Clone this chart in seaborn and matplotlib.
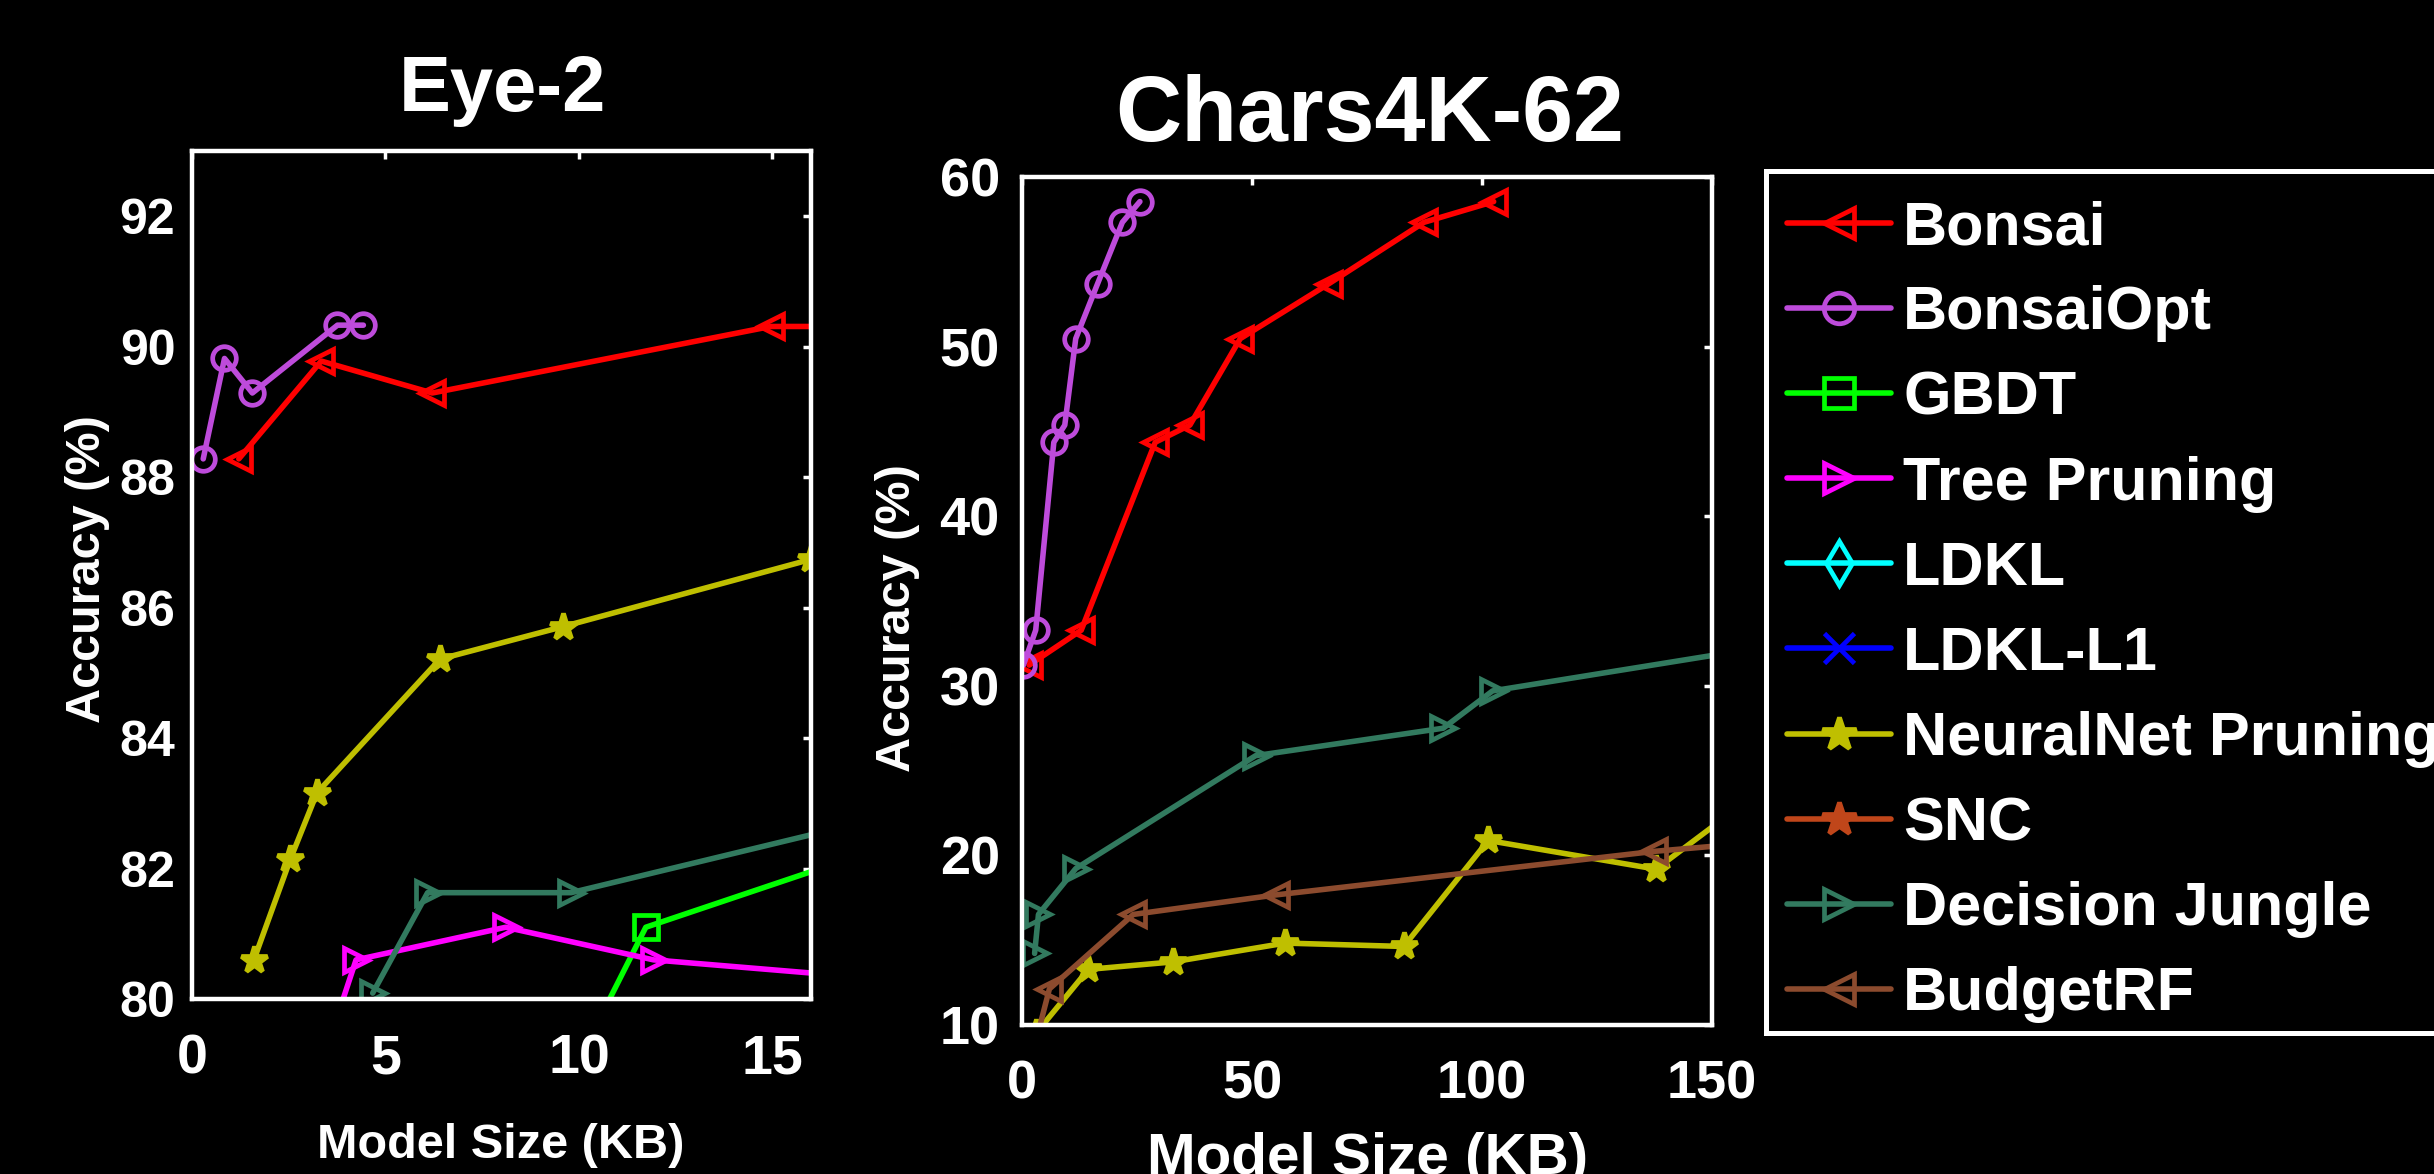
import matplotlib
matplotlib.use('Agg')
import matplotlib.pyplot as plt
from matplotlib import font_manager
from matplotlib.lines import Line2D
import seaborn as sns

W, H = 2434, 1174

methods = ['Bonsai', 'BonsaiOpt', 'GBDT', 'Tree Pruning', 'LDKL', 'LDKL-L1',
           'NeuralNet Pruning', 'SNC', 'Decision Jungle', 'BudgetRF']
colors = ['#FF0000', '#BE4BDB', '#00FF00', '#FF00FF', '#00FFFF', '#0000FF',
          '#BFBF00', '#C0461A', '#327A5F', '#8C4B2E']
markers = ['<', 'o', 's', '>', 'd', 'x', '*', '*', '>', '<']

# Eye-2 : model size (KB) vs accuracy (%)
eye_bonsai_x = [1.21, 3.34, 6.21, 14.96, 22.0]
eye_bonsai_y = [88.28, 89.78, 89.29, 90.31, 90.31]
eye_bonsaiopt_x = [0.29, 0.84, 1.56, 3.76, 4.43]
eye_bonsaiopt_y = [88.28, 89.82, 89.29, 90.33, 90.33]
eye_gbdt_x = [10.2, 11.73, 20.0]
eye_gbdt_y = [79.3, 81.10, 82.75]
eye_tree_x = [3.35, 4.24, 8.11, 11.93, 20.0]
eye_tree_y = [79.0, 80.60, 81.10, 80.60, 80.2]
eye_nn_x = [1.60, 2.54, 3.23, 6.41, 9.60, 16.0]
eye_nn_y = [80.60, 82.14, 83.16, 85.21, 85.71, 86.74]
eye_dj_x = [4.67, 6.09, 9.80, 20.0]
eye_dj_y = [80.09, 81.63, 81.63, 83.09]

# Chars4K-62 : model size (KB) vs accuracy (%)
ch_bonsai_x = [1.55, 12.88, 28.97, 36.49, 47.45, 66.77, 87.40, 102.54]
ch_bonsai_y = [31.22, 33.28, 44.36, 45.37, 50.47, 53.72, 57.33, 58.55]
ch_bonsaiopt_x = [0.3, 2.98, 6.92, 9.30, 11.68, 16.45, 21.82, 25.63]
ch_bonsaiopt_y = [31.22, 33.28, 44.36, 45.37, 50.47, 53.72, 57.33, 58.55]
ch_nn_x = [3.0, 14.43, 32.79, 57.23, 82.99, 101.35, 137.83, 160.0]
ch_nn_y = [9.5, 13.28, 13.72, 14.83, 14.63, 20.88, 19.19, 23.7]
ch_dj_x = [2.74, 3.58, 11.68, 50.79, 91.57, 102.3, 180.0]
ch_dj_y = [14.22, 16.52, 19.22, 25.88, 27.50, 29.70, 33.1]
ch_brf_x = [2.5, 5.96, 24.2, 55.2, 137.5, 200.0]
ch_brf_y = [8.5, 12.13, 16.52, 17.67, 20.24, 21.7]

eye_series = {
    'Bonsai': (eye_bonsai_x, eye_bonsai_y),
    'BonsaiOpt': (eye_bonsaiopt_x, eye_bonsaiopt_y),
    'GBDT': (eye_gbdt_x, eye_gbdt_y),
    'Tree Pruning': (eye_tree_x, eye_tree_y),
    'NeuralNet Pruning': (eye_nn_x, eye_nn_y),
    'Decision Jungle': (eye_dj_x, eye_dj_y),
}
chars_series = {
    'Bonsai': (ch_bonsai_x, ch_bonsai_y),
    'BonsaiOpt': (ch_bonsaiopt_x, ch_bonsaiopt_y),
    'NeuralNet Pruning': (ch_nn_x, ch_nn_y),
    'Decision Jungle': (ch_dj_x, ch_dj_y),
    'BudgetRF': (ch_brf_x, ch_brf_y),
}

sns.set_style('dark')
names = {f.name for f in font_manager.fontManager.ttflist}
wide = 'Liberation Sans'
narrow = 'Liberation Sans Narrow' if 'Liberation Sans Narrow' in names else wide
plt.rcParams['font.family'] = [wide, 'DejaVu Sans']
plt.rcParams['font.weight'] = 'bold'

LW, MEW = 4.0, 3.4


def style_of(name, ms=17):
    i = methods.index(name)
    kw = dict(color=colors[i], marker=markers[i], markersize=ms,
              markeredgewidth=MEW, markeredgecolor=colors[i], linewidth=LW)
    if markers[i] != '*':
        kw['fillstyle'] = 'none'
    else:
        kw['markerfacecolor'] = colors[i]
        kw['markersize'] = ms + 3
    return kw


def draw(ax, series):
    for name in methods:
        if name not in series:
            continue
        x, y = series[name]
        sns.lineplot(x=x, y=y, ax=ax, sort=False, estimator=None, **style_of(name))


def frame(ax, xsize, ysize, lab_font, xpad, ypad):
    ax.set_facecolor('black')
    for s in ax.spines.values():
        s.set_color('white')
        s.set_linewidth(3.2)
        s.set_visible(True)
    ax.grid(False)
    ax.tick_params(direction='in', top=True, right=True, length=6, width=2.5,
                   color='white', labelcolor='white')
    ax.tick_params(axis='x', pad=xpad, labelsize=xsize)
    ax.tick_params(axis='y', pad=ypad, labelsize=ysize)
    for lab in ax.get_xticklabels() + ax.get_yticklabels():
        lab.set_family(lab_font)
        lab.set_weight('bold')
    ax.set_xlabel('')
    ax.set_ylabel('')


fig = plt.figure(figsize=(W / 100, H / 100), dpi=100, facecolor='black')

ax1 = fig.add_axes([192 / W, 1 - 999 / H, 619 / W, 848 / H])
draw(ax1, eye_series)
ax1.set_xlim(0, 16)
ax1.set_ylim(80, 93)
ax1.set_xticks([0, 5, 10, 15])
ax1.set_yticks([80, 82, 84, 86, 88, 90, 92])
frame(ax1, 40, 36, narrow, 25, 12)

ax2 = fig.add_axes([1022 / W, 1 - 1025 / H, 690 / W, 848 / H])
draw(ax2, chars_series)
ax2.set_xlim(0, 150)
ax2.set_ylim(10, 60)
ax2.set_xticks([0, 50, 100, 150])
ax2.set_yticks([10, 20, 30, 40, 50, 60])
frame(ax2, 39, 39, wide, 25, 16)

# titles and axis labels
fig.text(502 / W, 1 - 111 / H, 'Eye-2', color='white', fontsize=56,
         family=narrow, weight='bold', ha='center', va='baseline')
fig.text(1370 / W, 1 - 141 / H, 'Chars4K-62', color='white', fontsize=66,
         family=wide, weight='bold', ha='center', va='baseline')
fig.text(501 / W, 1 - 1158 / H, 'Model Size (KB)', color='white', fontsize=35,
         family=narrow, weight='bold', ha='center', va='baseline')
fig.text(1368 / W, 1 - 1174 / H, 'Model Size (KB)', color='white', fontsize=42,
         family=wide, weight='bold', ha='center', va='baseline')
fig.text(88 / W, 1 - 569 / H, 'Accuracy (%)', color='white', fontsize=35,
         family=narrow, weight='bold', ha='center', va='center', rotation=90)
fig.text(898 / W, 1 - 618 / H, 'Accuracy (%)', color='white', fontsize=35,
         family=wide, weight='bold', ha='center', va='center', rotation=90)

# legend box running off the right edge
axL = fig.add_axes([1766 / W, 1 - 1033 / H, 0.4, 862 / H])
axL.set_facecolor('black')
axL.set_xticks([])
axL.set_yticks([])
for s in axL.spines.values():
    s.set_color('white')
    s.set_linewidth(3.6)
handles = [Line2D([], [], **style_of(m, ms=22)) for m in methods]
axL.legend(handles, methods, loc='upper left', bbox_to_anchor=(0.0216, 0.966),
           frameon=False, handlelength=1.7, handletextpad=0.2, labelspacing=0.46,
           borderpad=0, borderaxespad=0, labelcolor='white',
           prop={'family': wide, 'weight': 'bold', 'size': 44})

fig.savefig('out.png', dpi=100, facecolor='black')
